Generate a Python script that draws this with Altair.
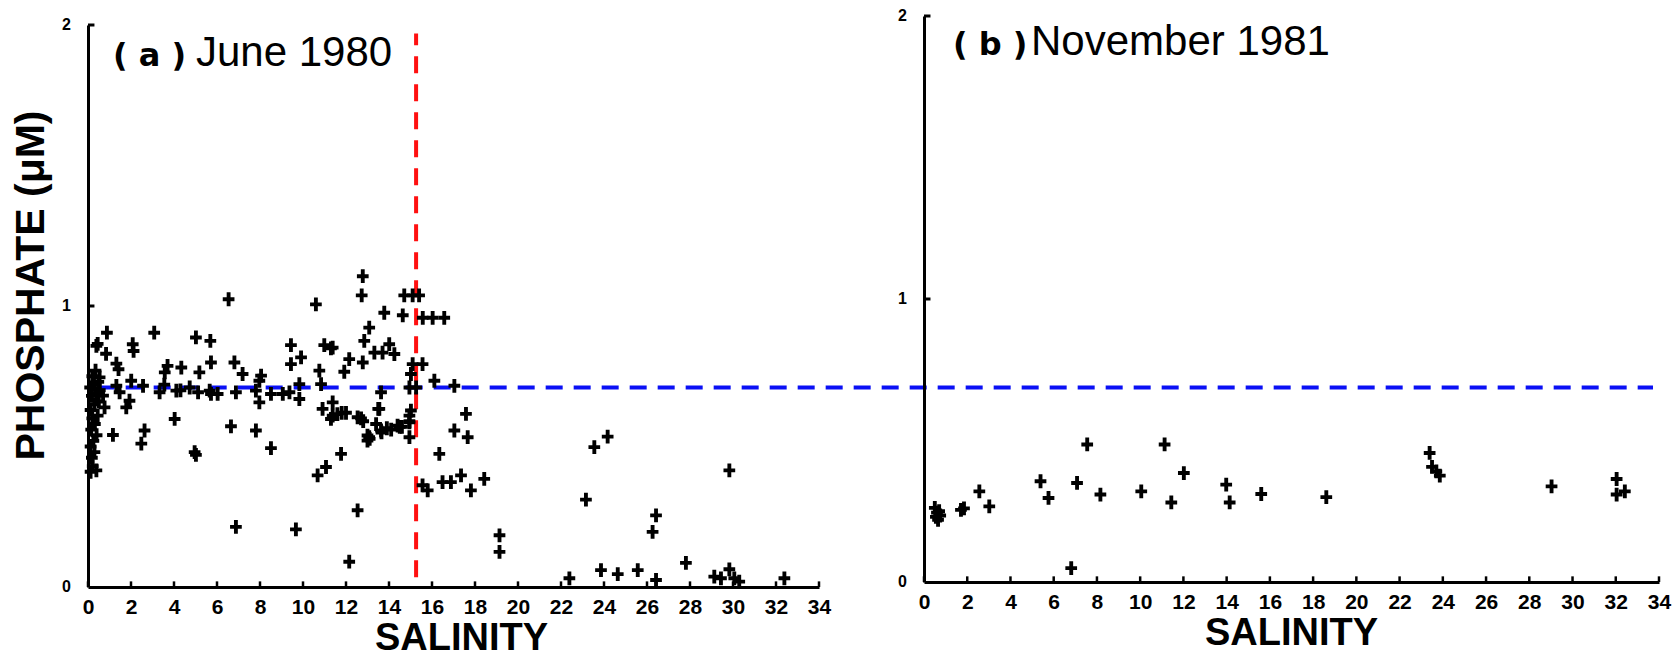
import altair as alt
import pandas as pd

# ---- (a) June 1980: salinity vs phosphate (uM) ----
june_sal = [
    # upper scatter near the front
    6.54, 10.6, 12.78, 12.73, 14.71, 15.1, 15.4, 13.78, 14.64, 15.57, 16.03, 16.57,
    13.08, 12.85, 14.01, 13.32, 13.7, 14.25, 11.38, 12.15, 12.78, 11.92, 15.1, 15.56,
    15.02, 16.11, 17.04, 14.95, 15.26, 13.63, 13.55, 15.02, 17.58, 14.95, 14.95, 14.95,
    17.04, 17.66, 16.34, 11.77, 13.0, 13.1, 13.65, 14.1, 14.5,
    # low-salinity scatter
    0.45, 0.88, 0.84, 1.32, 1.42, 2.08, 2.12, 3.08, 5.02, 5.69, 5.72, 5.18, 3.7, 3.57,
    4.34, 0.39, 6.81, 7.19, 8.05, 7.97, 9.44, 9.44, 9.91, 10.76, 10.99, 11.3,
    # around the mean level
    0.54, 0.7, 0.77, 1.32, 1.47, 2.01, 2.56, 1.93, 1.78, 3.33, 4.11, 4.73, 5.12, 5.66,
    5.72, 6.03, 6.88, 7.81, 7.97, 8.51, 9.06, 9.37, 9.83, 9.83, 10.84, 10.91, 11.3,
    11.38, 3.55, 4.3,
    # lower middle
    6.65, 7.81, 8.51, 11.07, 10.68, 1.16, 2.63, 2.48, 4.03, 4.96, 5.02, 12.54, 12.15,
    6.88, 9.67,
    11.38, 11.6, 11.8, 12.0, 12.54, 12.7, 12.8, 13.08, 13.0, 13.4, 13.63, 13.9, 14.4,
    14.6, 14.95, 13.5,
    # seaward of the front
    15.56, 15.8, 16.49, 16.88, 17.35, 17.81, 18.43, 19.14, 19.14, 23.16, 23.55, 24.17,
    29.83, 26.42, 26.26, 27.81, 22.39, 23.86, 24.64, 25.57, 26.42, 29.13, 29.44, 29.83,
    30.06, 30.29, 32.39,
    # stations at the river mouth
    0.12, 0.22, 0.39, 0.18, 0.3, 0.12, 0.25, 0.4, 0.15, 0.32, 0.2, 0.45, 0.12, 0.3,
    0.5, 0.18, 0.4, 0.1, 0.28, 0.48, 0.2, 0.35, 0.55,
]
june_po4 = [
    1.024, 1.006, 1.106, 1.038, 1.038, 1.038, 1.038, 0.976, 0.967, 0.958, 0.958, 0.958,
    0.923, 0.876, 0.864, 0.834, 0.834, 0.829, 0.852, 0.811, 0.799, 0.766, 0.793, 0.793,
    0.758, 0.734, 0.716, 0.71, 0.71, 0.693, 0.634, 0.628, 0.616, 0.61, 0.586, 0.533,
    0.557, 0.533, 0.474, 0.474, 0.539, 0.527, 0.55, 0.56, 0.57,
    0.865, 0.905, 0.83, 0.795, 0.775, 0.864, 0.84, 0.905, 0.888, 0.876, 0.799, 0.764,
    0.787, 0.764, 0.781, 0.858, 0.799, 0.758, 0.752, 0.734, 0.861, 0.793, 0.817, 0.77,
    0.861, 0.849,
    0.746, 0.681, 0.639, 0.716, 0.693, 0.734, 0.716, 0.663, 0.639, 0.693, 0.699, 0.71,
    0.693, 0.699, 0.687, 0.687, 0.693, 0.699, 0.657, 0.687, 0.687, 0.693, 0.722, 0.669,
    0.722, 0.634, 0.598, 0.657, 0.72, 0.70,
    0.572, 0.557, 0.494, 0.427, 0.397, 0.541, 0.557, 0.51, 0.598, 0.48, 0.47, 0.273,
    0.09, 0.214, 0.205,
    0.61, 0.615, 0.62, 0.62, 0.604, 0.60, 0.59, 0.533, 0.521, 0.58, 0.557, 0.565,
    0.574, 0.57, 0.59, 0.634,
    0.362, 0.344, 0.373, 0.373, 0.397, 0.344, 0.385, 0.184, 0.125, 0.311, 0.498, 0.535,
    0.415, 0.255, 0.196, 0.086, 0.031, 0.06, 0.046, 0.06, 0.025, 0.037, 0.031, 0.063,
    0.031, 0.019, 0.031,
    0.41, 0.43, 0.415, 0.46, 0.48, 0.5, 0.52, 0.54, 0.56, 0.58, 0.6, 0.61, 0.63, 0.65,
    0.66, 0.68, 0.69, 0.71, 0.72, 0.73, 0.75, 0.77, 0.7,
]

# ---- (b) November 1981 ----
nov_sal = [0.5, 0.6, 0.7, 0.55, 0.75, 0.65, 1.71, 1.85, 2.56, 3.02, 5.39, 5.76, 6.81,
           7.08, 7.55, 8.16, 10.05, 11.13, 11.44, 12.02, 13.98, 14.14, 15.6, 18.61,
           23.39, 23.5, 23.7, 23.86, 29.03, 32.04, 32.04, 32.42]
nov_po4 = [0.262, 0.245, 0.25, 0.23, 0.235, 0.22, 0.255, 0.26, 0.32, 0.267, 0.356,
           0.297, 0.049, 0.35, 0.486, 0.309, 0.32, 0.486, 0.281, 0.385, 0.344, 0.281,
           0.311, 0.30, 0.456, 0.407, 0.391, 0.376, 0.338, 0.364, 0.309, 0.32]

x_ticks = list(range(0, 35, 2))
y_ticks = [0, 1, 2]
mean_po4 = 0.71      # horizontal reference level, drawn across both panels
front_sal = 15.26    # salinity of the June front

PLUS = "M-0.85,-0.28H-0.28V-1H0.28V-0.28H0.85V0.28H0.28V1H-0.28V0.28H-0.85Z"
DASH = [17, 11]
LABEL_FONT = "Liberation Sans"


def panel(sal, po4, width, height, y_range, y_title, tag, month, txt_y,
          title_x, blue=None, front=None):
    xs = alt.Scale(domain=[0, 34], range=[0, width], nice=False, zero=False)
    ys = alt.Scale(domain=[0, 2], range=y_range, nice=False, zero=False)

    x_axis = alt.Axis(values=x_ticks, format="d", ticks=False, tickSize=0, grid=False,
                      domainColor="black", domainWidth=3, labelColor="black",
                      labelFont=LABEL_FONT, labelFontWeight="bold", labelFontSize=21,
                      labelPadding=9, labelFlush=False, labelOverlap=False,
                      title="SALINITY", titleFont=LABEL_FONT, titleFontWeight="bold",
                      titleFontSize=38, titleColor="black", titlePadding=2,
                      titleX=title_x)
    y_kw = dict(values=y_ticks, ticks=False, tickSize=0, grid=False, labels=False,
                domainColor="black", domainWidth=3)
    if y_title:
        y_axis = alt.Axis(title=y_title, titleFont=LABEL_FONT, titleFontWeight="bold",
                          titleFontSize=41, titleColor="black", titleAngle=-90,
                          titleX=-45, titleY=269, titleAlign="center",
                          titleBaseline="alphabetic", **y_kw)
    else:
        y_axis = alt.Axis(title=None, **y_kw)

    pts = pd.DataFrame({"s": sal, "p": po4})
    points = alt.Chart(pts).mark_point(shape=PLUS, filled=True, size=190,
                                       color="black", opacity=1).encode(
        x=alt.X("s:Q", scale=xs, axis=x_axis),
        y=alt.Y("p:Q", scale=ys, axis=y_axis),
    )

    # inward tick marks on both axes
    xt = pd.DataFrame({"s": x_ticks, "p": [0] * len(x_ticks), "p2": [0.02] * len(x_ticks)})
    x_tick_marks = alt.Chart(xt).mark_rule(color="black", strokeWidth=2.5).encode(
        x=alt.X("s:Q", scale=xs), y=alt.Y("p:Q", scale=ys), y2="p2:Q")
    yt = pd.DataFrame({"s": [0, 0], "s2": [0.3, 0.3], "p": [1, 2]})
    y_tick_marks = alt.Chart(yt).mark_rule(color="black", strokeWidth=3).encode(
        x=alt.X("s:Q", scale=xs), x2="s2:Q", y=alt.Y("p:Q", scale=ys))

    # phosphate tick labels beside the axis
    yl = pd.DataFrame({"s": [0] * len(y_ticks), "p": y_ticks,
                       "t": [str(v) for v in y_ticks]})
    y_labels = alt.Chart(yl).mark_text(align="right", baseline="middle", dx=-17,
                                       font=LABEL_FONT, fontWeight="bold",
                                       fontSize=16, color="black").encode(
        x=alt.X("s:Q", scale=xs), y=alt.Y("p:Q", scale=ys), text="t:N")

    tags = pd.DataFrame({"s": [tag[1]], "p": [txt_y], "t": [tag[0]]})
    tag_text = alt.Chart(tags).mark_text(align="left", baseline="alphabetic",
                                         font="DejaVu Sans", fontWeight="bold",
                                         fontSize=32, color="black").encode(
        x=alt.X("s:Q", scale=xs), y=alt.Y("p:Q", scale=ys), text="t:N")
    months = pd.DataFrame({"s": [month[1]], "p": [txt_y], "t": [month[0]]})
    month_text = alt.Chart(months).mark_text(align="left", baseline="alphabetic",
                                             font=LABEL_FONT, fontSize=42,
                                             color="black").encode(
        x=alt.X("s:Q", scale=xs), y=alt.Y("p:Q", scale=ys), text="t:N")

    layers = []
    if blue is not None:
        bl = pd.DataFrame({"s": [blue[0]], "s2": [blue[1]], "p": [mean_po4]})
        layers.append(alt.Chart(bl).mark_rule(color="#0a10f5", strokeWidth=4,
                                              strokeDash=DASH).encode(
            x=alt.X("s:Q", scale=xs), x2="s2:Q", y=alt.Y("p:Q", scale=ys)))
    if front is not None:
        fr = pd.DataFrame({"s": [front], "p": [0.035], "p2": [1.97]})
        layers.append(alt.Chart(fr).mark_rule(color="#ff1010", strokeWidth=4,
                                              strokeDash=DASH).encode(
            x=alt.X("s:Q", scale=xs), y=alt.Y("p:Q", scale=ys), y2="p2:Q"))
    layers += [x_tick_marks, y_tick_marks, y_labels, points, tag_text, month_text]
    return alt.layer(*layers).properties(width=width, height=height)


# the reference level runs on from panel (a) straight through panel (b)
panel_a = panel(june_sal, june_po4, 731, 571, [571, 9], "PHOSPHATE (\u03bcM)",
                ("( a )", 1.16), ("June 1980", 5.02), 1.854, 373,
                blue=(0.45, 72.79), front=front_sal)
panel_b = panel(nov_sal, nov_po4, 735, 566, [566, 0], None,
                ("( b )", 1.34), ("November 1981", 4.95), 1.862, 367)

chart = alt.hconcat(panel_a, panel_b, spacing=105, bounds="flush").properties(
    padding={"left": 10, "top": 8, "right": 5, "bottom": 0},
    background="white",
).configure_view(strokeWidth=0)

chart.save("out.html", embed_options={"renderer": "svg", "actions": False})
